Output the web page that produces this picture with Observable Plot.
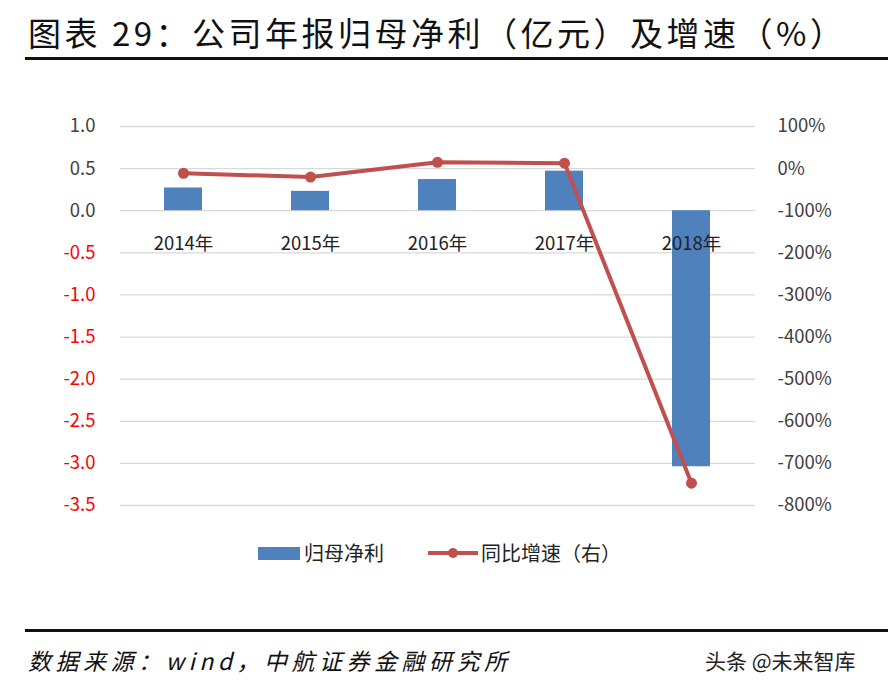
<!DOCTYPE html>
<html>
<head>
<meta charset="utf-8">
<script src="https://cdn.jsdelivr.net/npm/d3@7"></script>
<script src="https://cdn.jsdelivr.net/npm/@observablehq/plot@0.6"></script>
<style>
  html, body { margin:0; padding:0; background:#fff; }
  #root { position:relative; width:888px; height:686px; overflow:hidden; font-family:"Noto Sans CJK SC", sans-serif; }
  .abs { position:absolute; white-space:nowrap; }
  #title { left:28px; top:8px; font-size:33px; letter-spacing:3.5px; color:#111; line-height:48px; }
  .rule { position:absolute; left:25px; width:863px; height:3px; background:#111; }
  #chart { position:absolute; left:0; top:100px; }
  .legend { top:538px; font-size:20px; color:#222; line-height:30px; }
  #source { left:28px; top:642px; font-size:23px; font-style:italic; letter-spacing:4.5px; color:#111; line-height:36px; }
  #mark { left:705px; top:644px; font-size:21px; color:#222; line-height:32px; }
</style>
</head>
<body>
<div id="root">
  <div id="title" class="abs">图表 29：公司年报归母净利（亿元）及增速（%）</div>
  <div class="rule" style="top:57px"></div>
  <div id="chart"></div>
  <div class="abs" style="left:258px; top:547px; width:42px; height:13px; background:#4f81bd;"></div>
  <div class="abs legend" style="left:304px;">归母净利</div>
  <div class="abs" style="left:428px; top:551px; width:50px; height:4px; background:#c0504d;"></div>
  <div class="abs" style="left:448px; top:548px; width:10px; height:10px; border-radius:5px; background:#c0504d;"></div>
  <div class="abs legend" style="left:481px;">同比增速（右）</div>
  <div class="rule" style="top:629px"></div>
  <div id="source" class="abs">数据来源：wind，中航证券金融研究所</div>
  <div id="mark" class="abs">头条 @未来智库</div>
</div>
<script>
const categories = ["2014年", "2015年", "2016年", "2017年", "2018年"];
const profit = [0.27, 0.23, 0.37, 0.47, -3.04];      // 归母净利（亿元）
const growth = [-11, -20, 15, 13, -747];              // 同比增速（%）
const leftTicks = [1.0, 0.5, 0, -0.5, -1.0, -1.5, -2.0, -2.5, -3.0, -3.5];
const rightTicks = [100, 0, -100, -200, -300, -400, -500, -600, -700, -800];

// right axis (%) mapped onto left scale: 100% -> 1.0, -800% -> -3.5
const toLeft = p => 0.5 + 0.005 * p;
const fromLeft = v => Math.round((v - 0.5) / 0.005);

const data = categories.map((c, i) => ({cat: c, profit: profit[i], growth: growth[i]}));

const chart = Plot.plot({
  width: 888,
  height: 430,
  marginTop: 26,
  marginBottom: 25,
  marginLeft: 120,
  marginRight: 133,
  style: {fontFamily: "'Noto Sans CJK SC', sans-serif", background: "transparent"},
  x: {type: "band", domain: categories, paddingInner: 0.7, paddingOuter: 0.35, axis: null},
  y: {domain: [-3.5, 1.0], axis: null},
  marks: [
    Plot.gridY(leftTicks, {stroke: "#d9d9d9", strokeOpacity: 1, strokeWidth: 1.3}),
    Plot.barY(data, {x: "cat", y: "profit", fill: "#4f81bd"}),
    Plot.line(data, {x: "cat", y: d => toLeft(d.growth), stroke: "#c0504d", strokeWidth: 4}),
    Plot.dot(data, {x: "cat", y: d => toLeft(d.growth), r: 5.5, fill: "#c0504d"}),
    Plot.text(data, {x: "cat", y: () => 0, dy: 33, text: "cat", fontSize: 18.5, fill: "#222"}),
    Plot.axisY(leftTicks.filter(d => d >= 0), {anchor: "left", label: null, tickSize: 0, tickPadding: 25, fontSize: 18.5, color: "#404040", tickFormat: d => d.toFixed(1)}),
    Plot.axisY(leftTicks.filter(d => d < 0), {anchor: "left", label: null, tickSize: 0, tickPadding: 25, fontSize: 18.5, color: "#ff0000", tickFormat: d => d.toFixed(1)}),
    Plot.axisY(rightTicks.map(toLeft), {anchor: "right", label: null, tickSize: 0, tickPadding: 22, fontSize: 18.5, color: "#404040", tickFormat: v => fromLeft(v) + "%"})
  ]
});
document.getElementById("chart").appendChild(chart);
</script>
</body>
</html>
